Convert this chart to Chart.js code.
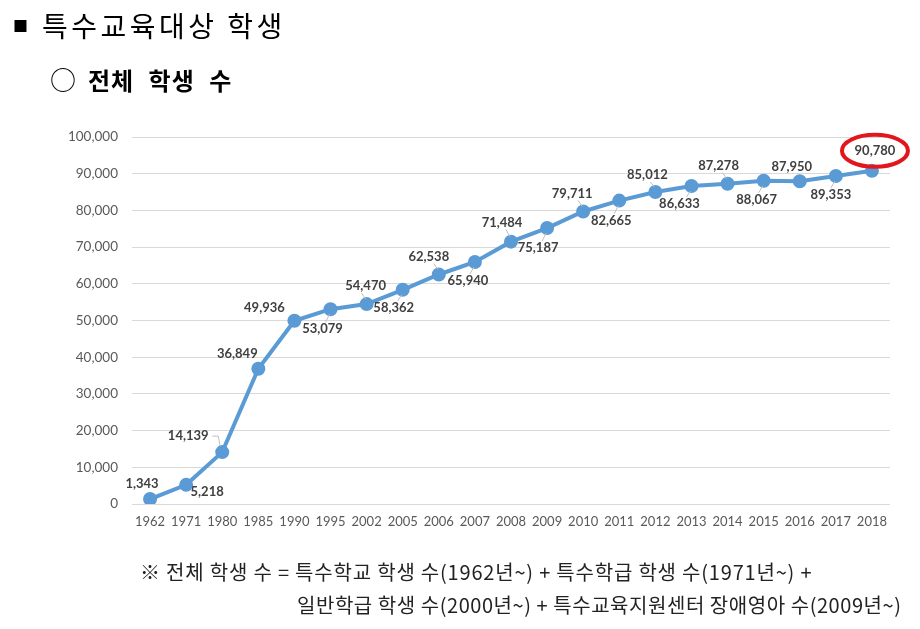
<!DOCTYPE html>
<html>
<head>
<meta charset="utf-8">
<script src="https://cdn.jsdelivr.net/npm/chart.js@4.4.1/dist/chart.umd.min.js"></script>
<style>
body { margin: 0; background: #fff; }
#wrap { position: relative; width: 920px; height: 629px; overflow: hidden; font-family: "Noto Sans CJK KR", sans-serif; color: #000; }
#myChart { position: absolute; left: 0; top: 0; }
.title { position: absolute; left: 13px; top: 5px; font-size: 28px; white-space: nowrap; letter-spacing: 3.5px; }
.title .sq { font-size: 15px; margin-right: 14px; position: relative; top: -5px; letter-spacing: 0; }
.sub { position: absolute; left: 50px; top: 60px; font-size: 24px; font-weight: bold; white-space: nowrap; letter-spacing: 1px; word-spacing: 8px; }
.sub .circ { font-weight: normal; font-size: 26px; margin-right: 12px; letter-spacing: 0; }
.note { position: absolute; font-size: 20px; white-space: nowrap; color: #222; }
</style>
</head>
<body>
<div id="wrap">
  <canvas id="myChart" width="920" height="629"></canvas>
  <div class="title"><span class="sq">■</span>특수교육대상 학생</div>
  <div class="sub"><span class="circ">○</span>전체 학생 수</div>
  <div class="note" style="left:140px; top:557px; letter-spacing:0.8px;">※ 전체 학생 수 = 특수학교 학생 수(1962년~) + 특수학급 학생 수(1971년~) +</div>
  <div class="note" style="left:297px; top:590px; letter-spacing:0.55px;">일반학급 학생 수(2000년~) + 특수교육지원센터 장애영아 수(2009년~)</div>
</div>
<script>
// chart data
var years = ['1962','1971','1980','1985','1990','1995','2002','2005','2006','2007','2008',
             '2009','2010','2011','2012','2013','2014','2015','2016','2017','2018'];
var students = [1343, 5218, 14139, 36849, 49936, 53079, 54470, 58362, 62538, 65940, 71484,
                75187, 79711, 82665, 85012, 86633, 87278, 88067, 87950, 89353, 90780];
var yTicks = [0, 10000, 20000, 30000, 40000, 50000, 60000, 70000, 80000, 90000, 100000];

// where each value label sits relative to its point (dx, dy)
var labelOffsets = [[-8,-15],[21,7],[-34,-16],[-21,-15],[-30,-13],[-8,20],[-1,-18],[-9,18],
                    [-10,-18],[-7,19],[-9,-19],[-9,20],[-11,-18],[-8,20],[-8,-17],[-12,18],
                    [-9,-18],[-7,19],[-8,-14],[-5,19],[3,-20]];

function fmt(v) { return v.toLocaleString('en-US'); }

var valueLabels = {
    id: 'valueLabels',
    afterDatasetsDraw: function (chart) {
        var ctx = chart.ctx;
        var meta = chart.getDatasetMeta(0);
        ctx.save();
        ctx.font = 'bold 13px Lato, "Liberation Sans", sans-serif';
        ctx.textAlign = 'center';
        ctx.textBaseline = 'middle';
        meta.data.forEach(function (pt, i) {
            var off = labelOffsets[i];
            var lx = pt.x + off[0], ly = pt.y + off[1];
            // little leader lines like the excel chart
            if (Math.abs(off[0]) > 25 || (i >= 5 && i <= 19 && i !== 18)) {
                ctx.strokeStyle = '#bfbfbf';
                ctx.lineWidth = 1;
                ctx.beginPath();
                if (i === 2) {
                    ctx.moveTo(lx + 24, ly);
                    ctx.lineTo(lx + 30, ly);
                    ctx.lineTo(pt.x - 2, pt.y - 6);
                } else if (Math.abs(off[0]) <= 25) {
                    var sy = off[1] < 0 ? ly + 7 : ly - 7;
                    var ey = off[1] < 0 ? pt.y - 5 : pt.y + 5;
                    ctx.moveTo(pt.x - 5, sy);
                    ctx.lineTo(pt.x - 1, ey);
                }
                ctx.stroke();
            }
            ctx.fillStyle = '#404040';
            ctx.fillText(fmt(students[i]), lx, ly);
        });
        // red circle round the newest value
        var last = meta.data[meta.data.length - 1];
        var o = labelOffsets[labelOffsets.length - 1];
        ctx.strokeStyle = '#e3161d';
        ctx.lineWidth = 4;
        ctx.beginPath();
        ctx.ellipse(last.x + o[0], last.y + o[1], 33, 16, 0, 0, Math.PI * 2);
        ctx.stroke();
        ctx.restore();
    }
};

var chartDisplay = document.getElementById('myChart');
var myChart = new Chart(chartDisplay, {
    type: 'line',
    data: {
        labels: years,
        datasets: [{
            label: '전체 학생 수',
            data: students,
            borderColor: '#5b9bd5',
            backgroundColor: '#5b9bd5',
            borderWidth: 4,
            pointRadius: 5,
            pointBackgroundColor: '#5b9bd5',
            pointBorderColor: '#5b9bd5',
            tension: 0
        }]
    },
    options: {
        responsive: false,
        animation: false,
        devicePixelRatio: 1,
        layout: { padding: { left: 60, right: 30, top: 137, bottom: 95 } },
        plugins: {
            legend: { display: false },
            tooltip: { enabled: false }
        },
        scales: {
            x: {
                offset: true,
                grid: { display: false, drawTicks: false },
                border: { display: false },
                ticks: {
                    color: '#595959',
                    font: { family: 'Lato', size: 13 },
                    padding: 10,
                    maxRotation: 0,
                    autoSkip: false
                },
                afterFit: function (s) { s.height = 30; }
            },
            y: {
                min: 0,
                max: 100000,
                afterBuildTicks: function (s) { s.ticks = yTicks.map(function (v) { return { value: v }; }); },
                grid: { color: '#d9d9d9', drawTicks: false },
                border: { display: false },
                ticks: {
                    color: '#595959',
                    font: { family: 'Lato', size: 13.5 },
                    padding: 14,
                    callback: function (v) { return fmt(v); }
                },
                afterFit: function (s) { s.width = 72; }
            }
        }
    },
    plugins: [valueLabels]
});
</script>
</body>
</html>
